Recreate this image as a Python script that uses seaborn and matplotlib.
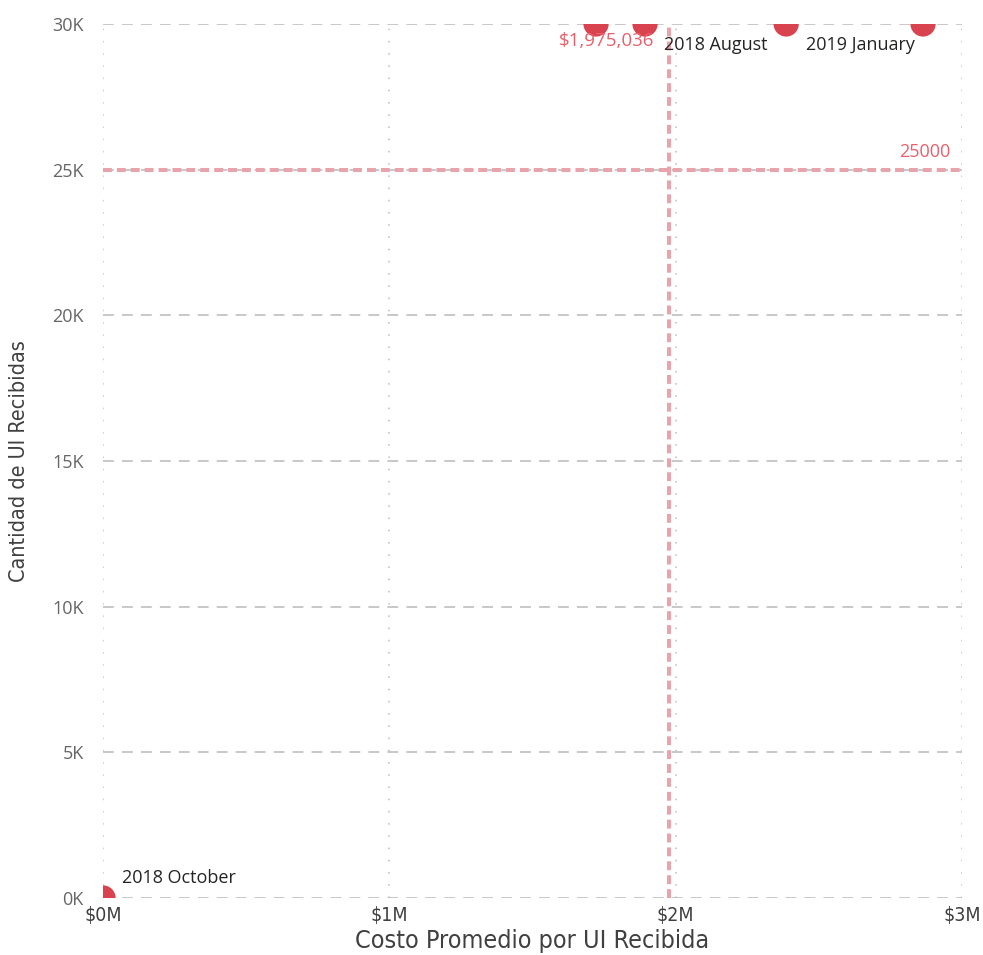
import pandas as pd
import matplotlib.pyplot as plt
import matplotlib.patches as mpatches
import seaborn as sns

# Datos
periodos = ["2018 October", "2018 May", "2018 August", "2019 January", "2018 June"]
costo_promedio = [0, 1722000, 1893000, 2386000, 2864000]
cantidad_ui = [0, 30000, 30000, 30000, 30000]
etiquetados = ["2018 October", "2018 August", "2019 January"]

linea_costo = 1975036
linea_cantidad = 25000
x_ticks = [0, 1e6, 2e6, 3e6]
x_ticklabels = ["$0M", "$1M", "$2M", "$3M"]
y_ticks = [0, 5000, 10000, 15000, 20000, 25000, 30000]
y_ticklabels = ["0K", "5K", "10K", "15K", "20K", "25K", "30K"]

df = pd.DataFrame({"Periodo": periodos, "Costo": costo_promedio, "Cantidad": cantidad_ui})

sns.set_style("white")
plt.rcParams["font.family"] = ["Open Sans", "DejaVu Sans"]

area = [0.1048, 0.0597, 0.8738, 0.9152]
fig = plt.figure(figsize=(9.83, 9.55), dpi=100)
ax = fig.add_axes(area)
ax.set_axisbelow(False)

red = "#D9434F"
line_red = "#E9A3AB"

# Grid
for y in y_ticks:
    ax.axhline(y, color="#C4C4C4", linestyle=(0, (6, 4.5)), linewidth=1.3, zorder=1)
for x in x_ticks:
    ax.axvline(x, color="#BDBDBD", linestyle=(0, (1, 7)), linewidth=1.1, zorder=1)

# Lineas de referencia
ax.axhline(linea_cantidad, color=line_red, linestyle=(0, (2.2, 1.25)), linewidth=2.9, zorder=2)
ax.axvline(linea_costo, color=line_red, linestyle=(0, (2.2, 1.25)), linewidth=2.9, zorder=2)

sns.scatterplot(data=df, x="Costo", y="Cantidad", color=red, s=330,
                edgecolor="none", ax=ax, zorder=2.3, legend=False)

ax.set_xlim(0, 3e6)
ax.set_ylim(0, 30000)

# recorte de los puntos en el borde del area (como en Power BI)
clip = mpatches.Polygon([[0, 0], [1, 0], [1, 1], [0, 1]], closed=True,
                        transform=ax.transAxes)
for coll in ax.collections:
    coll.set_clip_path(clip)

# bandas blancas fuera del area, por debajo de los textos de los ejes
l, b, w, h = area
for rect in [(0, b + h, 1, 1 - b - h), (0, 0, l, 1), (0, 0, 1, b), (l + w, 0, 1 - l - w, 1)]:
    ax.add_patch(mpatches.Rectangle(rect[:2], rect[2], rect[3], transform=fig.transFigure,
                                    facecolor="white", edgecolor="none",
                                    clip_on=False, zorder=2.4))

# Etiquetas de datos
for _, row in df.iterrows():
    if row["Periodo"] in etiquetados:
        ax.annotate(row["Periodo"], (row["Costo"], row["Cantidad"]),
                    textcoords="offset points", xytext=(14, -9 if row["Cantidad"] > 0 else 8),
                    ha="left", va="top" if row["Cantidad"] > 0 else "bottom",
                    fontsize=13, color="#252423", annotation_clip=False, zorder=3)

ax.annotate(f"${linea_costo:,.0f}", (linea_costo, 30000), textcoords="offset points",
            xytext=(-10, -6), ha="right", va="top", fontsize=13.5, color="#E8606C", zorder=3)
ax.annotate(f"{linea_cantidad}", (3e6, linea_cantidad), textcoords="offset points",
            xytext=(-8, 6), ha="right", va="bottom", fontsize=13, color="#E8606C", zorder=3)

ax.set_xticks(x_ticks)
ax.set_xticklabels(x_ticklabels, fontsize=14, color="#404040",
                   family=["DejaVu Sans"], fontstretch="condensed")
ax.set_yticks(y_ticks)
ax.set_yticklabels(y_ticklabels, fontsize=13, color="#666666")
ax.tick_params(axis="x", length=0, pad=6)
ax.tick_params(axis="y", length=0, pad=14)

ax.set_xlabel("Costo Promedio por UI Recibida", fontsize=18, family=["DejaVu Sans"],
              fontstretch="condensed", color="#404040")
ax.set_ylabel("Cantidad de UI Recibidas", fontsize=15.5, family=["DejaVu Sans"],
              fontstretch="condensed", color="#404040")
ax.xaxis.set_label_coords(0.5, -0.035)
ax.yaxis.set_label_coords(-0.086, 0.5)

sns.despine(ax=ax, left=True, bottom=True)

fig.savefig("out.png", dpi=100)
